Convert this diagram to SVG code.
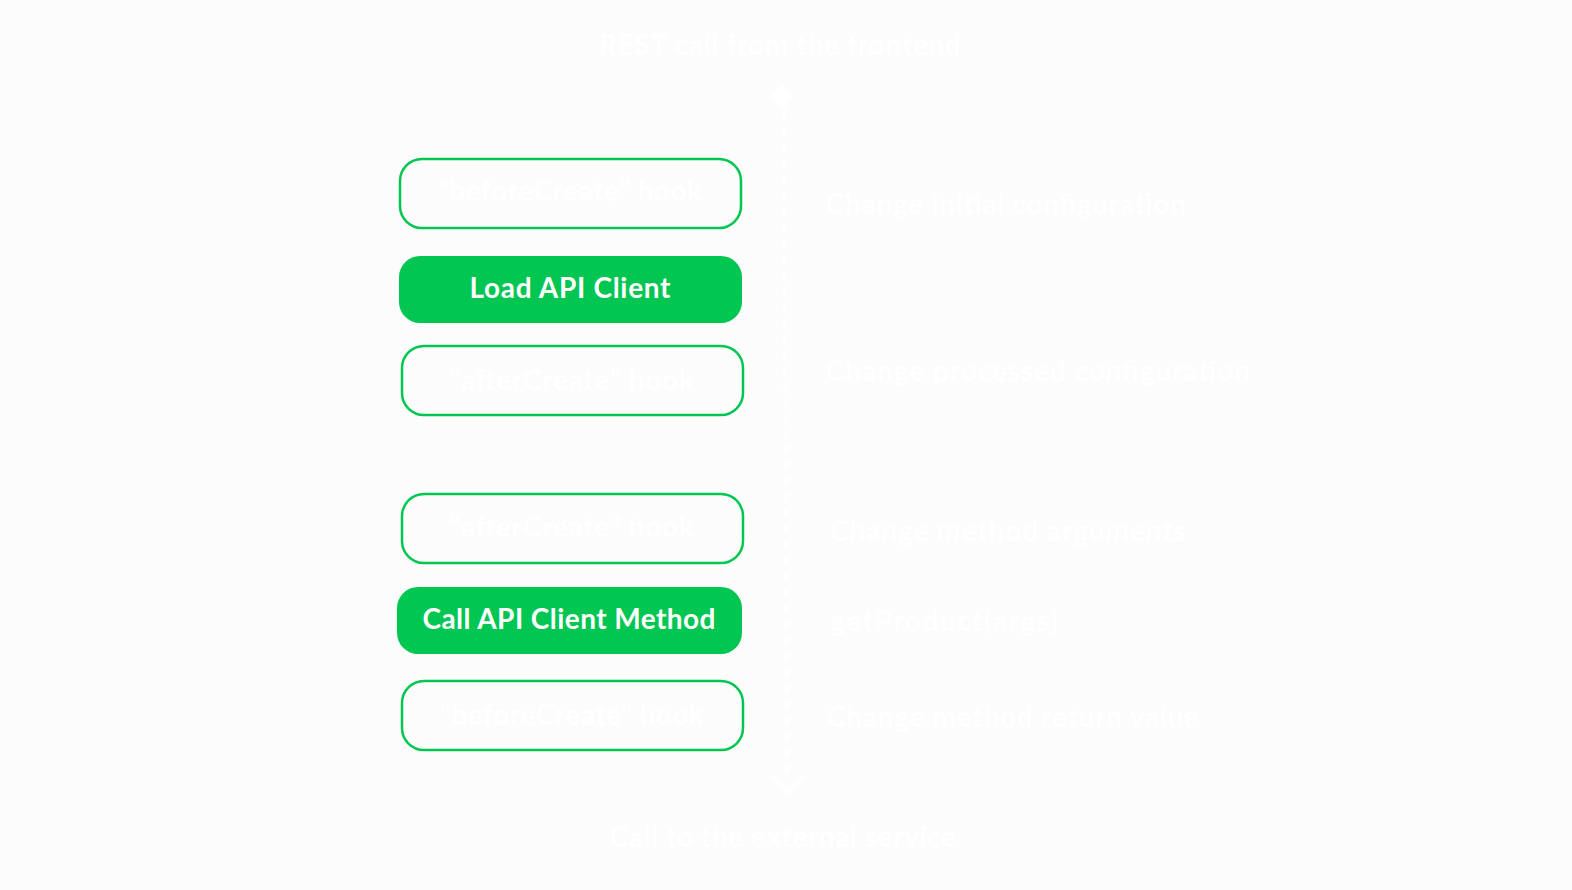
<svg xmlns="http://www.w3.org/2000/svg" width="1572" height="890" viewBox="0 0 1572 890">
<style>
.bg{fill:#fcfcfc}
.hook rect{fill:none;stroke:#02c652;stroke-width:2.5}
.step rect{fill:#02c652}
.t{font-family:Lato,"Open Sans",sans-serif;font-weight:700;font-size:28px;fill:#ffffff}
.bt{font-family:Lato,"Open Sans",sans-serif;font-weight:700;font-size:28px;fill:#ffffff;text-anchor:middle}
.conn{stroke:#ffffff;stroke-width:4;fill:none}
</style>
<rect class="bg" x="0" y="0" width="1572" height="890"/>
<g id="connectors">
<path class="conn" d="M784 110 L787 776" stroke-dasharray="8 8"/>
<path d="M782 85 L794 97 L782 109 L770 97 Z" fill="#ffffff"/>
<path class="conn" d="M774 778 L788 792 L802 778" stroke-linecap="round" stroke-linejoin="round"/>
</g>
<g id="title-top"><text class="t" x="780" y="55" text-anchor="middle" textLength="362">REST call from the frontend</text></g>
<g id="title-bottom"><text class="t" x="783" y="847" text-anchor="middle" textLength="346">Call to the external service</text></g>
<g id="node-beforeCreate-1" class="hook"><rect x="400" y="159" width="341" height="69" rx="22"/><text class="bt" x="570" y="201" textLength="264">“beforeCreate” hook</text></g>
<g id="node-load" class="step"><rect x="399" y="256" width="343" height="67" rx="21"/><text class="bt" x="570" y="298" textLength="201">Load API Client</text></g>
<g id="node-afterCreate-1" class="hook"><rect x="402" y="346" width="341" height="69" rx="22"/><text class="bt" x="572" y="390" textLength="244">“afterCreate” hook</text></g>
<g id="node-afterCreate-2" class="hook"><rect x="402" y="494" width="341" height="69" rx="22"/><text class="bt" x="572" y="537" textLength="244">“afterCreate” hook</text></g>
<g id="node-call" class="step"><rect x="397" y="587" width="345" height="67" rx="21"/><text class="bt" x="569" y="629" textLength="293">Call API Client Method</text></g>
<g id="node-beforeCreate-2" class="hook"><rect x="402" y="681" width="341" height="69" rx="22"/><text class="bt" x="572" y="725" textLength="264">“beforeCreate” hook</text></g>
<g id="labels">
<text class="t" x="826" y="214" textLength="360">Change initial configuration</text>
<text class="t" x="826" y="381" textLength="424">Change processed configuration</text>
<text class="t" x="830" y="541" textLength="356">Change method arguments</text>
<text class="t" x="830" y="631" textLength="228">getProduct(args)</text>
<text class="t" x="827" y="727" textLength="372">Change method return value</text>
</g>
</svg>
